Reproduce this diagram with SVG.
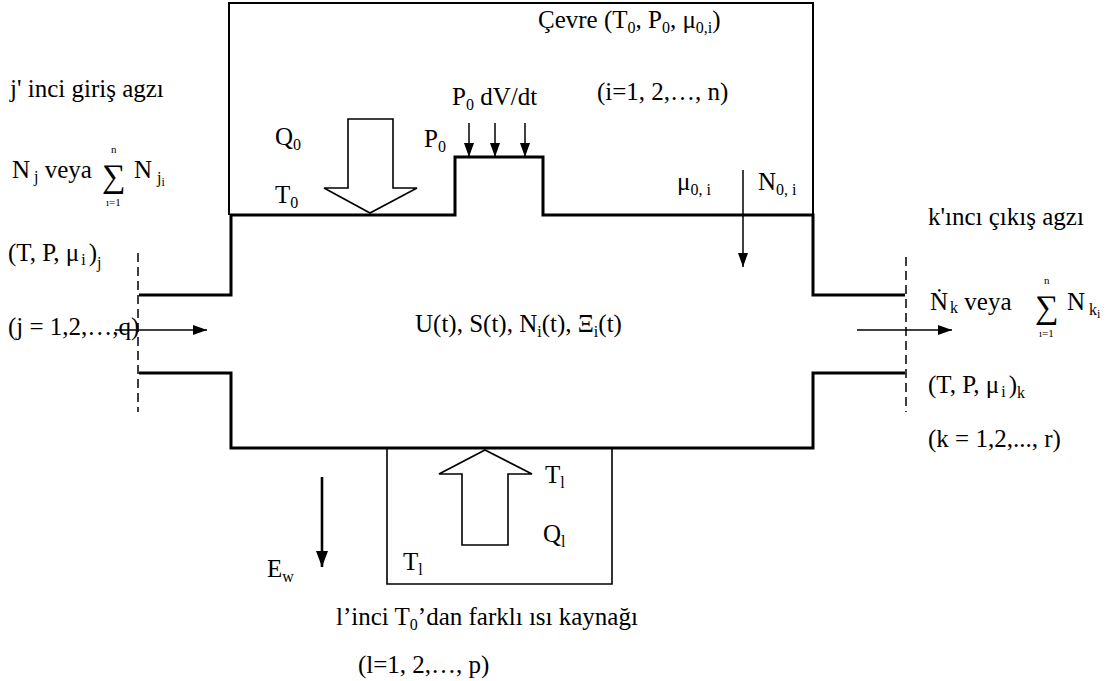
<svg xmlns="http://www.w3.org/2000/svg" width="1114" height="681" viewBox="0 0 1114 681">
<style>
.t{font-size:25px;fill:#000}
.s{font-size:16px}
.ss{font-size:12px}
.sig{font-size:33px;fill:#000}
.lim{font-size:11px;fill:#000}
.thick{fill:none;stroke:#000;stroke-width:3}
.thin{fill:none;stroke:#000;stroke-width:1.6}
.hollow{fill:#fff;stroke:#000;stroke-width:1.6;stroke-linejoin:miter}
.dash{fill:none;stroke:#000;stroke-width:1.5;stroke-dasharray:9 5}
.arr{stroke:#000;stroke-width:1.5;marker-end:url(#ah)}
.arrb{stroke:#000;stroke-width:2.6;marker-end:url(#ahb)}
</style>
<defs>
<marker id="ah" viewBox="0 0 14 10" refX="14" refY="5" markerWidth="14" markerHeight="10" markerUnits="userSpaceOnUse" orient="auto"><path d="M0,0 L14,5 L0,10 Z" fill="#000"/></marker>
<marker id="ahb" viewBox="0 0 16 12" refX="16" refY="6" markerWidth="16" markerHeight="12" markerUnits="userSpaceOnUse" orient="auto"><path d="M0,0 L16,6 L0,12 Z" fill="#000"/></marker>
</defs>
<rect width="1114" height="681" fill="#fff"/>
<g font-family="Liberation Serif, Times New Roman, serif">

<g id="environment">
<path class="thin" d="M229,215 L229,3 L813,3 L813,215" style="stroke-width:2"/>
<text class="t" x="538" y="28">Çevre (T<tspan class="s" dy="5">0</tspan><tspan dy="-5">, P</tspan><tspan class="s" dy="5">0</tspan><tspan dy="-5">, μ</tspan><tspan class="s" dy="5">0,i</tspan><tspan dy="-5">)</tspan></text>
<text class="t" x="597" y="100">(i=1, 2,…, n)</text>
</g>

<g id="control-volume">
<path class="thick" d="M139,295 L231,295 L231,215 L455,215 L455,157 L543,157 L543,215 L813,215 L813,295 L905,295"/>
<path class="thick" d="M139,373 L231,373 L231,448 L813,448 L813,373 L905,373"/>
<text class="t" x="415" y="332">U(t), S(t), N<tspan class="s" dy="5">i</tspan><tspan dy="-5">(t), Ξ</tspan><tspan class="s" dy="5">i</tspan><tspan dy="-5">(t)</tspan></text>
</g>

<g id="heat-source">
<path class="thin" d="M387,448 L387,584 L612,584 L612,448"/>
<path class="hollow" d="M462,545 L508,545 L508,474 L532,474 L485,450 L439,474 L462,474 Z"/>
<text class="t" x="545" y="483">T<tspan class="s" dy="5">l</tspan></text>
<text class="t" x="543" y="542">Q<tspan class="s" dy="5">l</tspan></text>
<text class="t" x="403" y="570">T<tspan class="s" dy="5">l</tspan></text>
<text class="t" x="336" y="625">l’inci T<tspan class="s" dy="5">0</tspan><tspan dy="-5">’dan farklı ısı kaynağı</tspan></text>
<text class="t" x="358" y="673">(l=1, 2,…, p)</text>
</g>

<g id="heat-Q0">
<path class="hollow" d="M348,119 L393,119 L393,188 L417,188 L370,213 L324,188 L348,188 Z"/>
<text class="t" x="275" y="145">Q<tspan class="s" dy="5">0</tspan></text>
<text class="t" x="275" y="203">T<tspan class="s" dy="5">0</tspan></text>
</g>

<g id="piston">
<text class="t" x="424" y="147">P<tspan class="s" dy="5">0</tspan></text>
<text class="t" x="452" y="105">P<tspan class="s" dy="5">0</tspan><tspan dy="-5"> dV/dt</tspan></text>
</g>

<g id="mass-exchange">
<text class="t" x="677" y="190">μ<tspan class="s" dy="5">0, i</tspan></text>
<text class="t" x="758" y="190">N<tspan class="s" dy="5">0, i</tspan></text>
</g>

<g id="inlet">
<path class="dash" d="M138,253 L138,412"/>
<text class="t" x="10" y="97">j' inci giriş agzı</text>
<text class="t" x="12" y="178">N<tspan class="s" dx="4" dy="4">j</tspan><tspan dy="-4"> veya</tspan></text>
<text class="sig" x="102" y="187">∑</text>
<text class="lim" x="111" y="153">n</text>
<text class="lim" x="106" y="206">ı=1</text>
<text class="t" x="134" y="178">N<tspan class="s" dx="5" dy="5">j</tspan><tspan class="ss" dy="3">i</tspan></text>
<text class="t" x="8" y="261">(T, P, μ<tspan class="s" dx="2" dy="4">i</tspan><tspan dx="3" dy="-4">)</tspan><tspan class="s" dy="7">j</tspan></text>
<text class="t" x="8" y="335">(j = 1,2,…,q)</text>
</g>

<g id="outlet">
<path class="dash" d="M906,257 L906,412"/>
<text class="t" x="928" y="225">k'ıncı çıkış agzı</text>
<text class="t" x="930" y="310">Ṅ<tspan class="s" dx="2" dy="3">k</tspan><tspan dy="-3"> veya</tspan></text>
<text class="sig" x="1035" y="318">∑</text>
<text class="lim" x="1044" y="284">n</text>
<text class="lim" x="1039" y="337">ı=1</text>
<text class="t" x="1067" y="310">N<tspan class="s" dx="4" dy="5">k</tspan><tspan class="ss" dy="3">i</tspan></text>
<text class="t" x="928" y="393">(T, P, μ<tspan class="s" dx="2" dy="4">i</tspan><tspan dx="3" dy="-4">)</tspan><tspan class="s" dy="5">k</tspan></text>
<text class="t" x="928" y="447">(k = 1,2,..., r)</text>
</g>

<g id="work">
<text class="t" x="267" y="577">E<tspan class="s" dy="5">w</tspan></text>
</g>
</g>

<g id="connectors">
<line class="arr" x1="115" y1="330" x2="207" y2="330"/>
<line class="arr" x1="857" y1="330" x2="952" y2="330"/>
<line class="arr" x1="469" y1="123" x2="469" y2="157"/>
<line class="arr" x1="495" y1="123" x2="495" y2="157"/>
<line class="arr" x1="525" y1="123" x2="525" y2="157"/>
<line class="arr" x1="743" y1="170" x2="743" y2="267"/>
<line class="arrb" x1="322" y1="477" x2="322" y2="567"/>
</g>
</svg>
